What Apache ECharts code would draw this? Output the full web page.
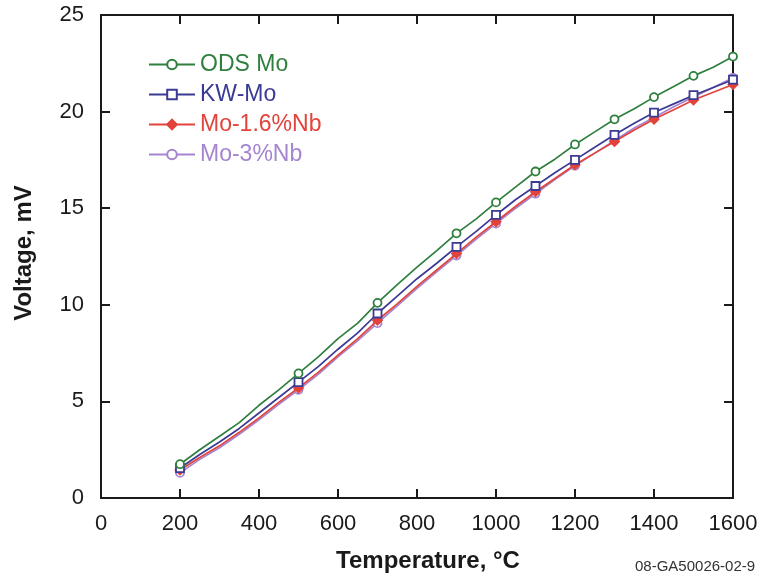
<!DOCTYPE html>
<html>
<head>
<meta charset="utf-8">
<script src="https://cdn.jsdelivr.net/npm/echarts@6/dist/echarts.min.js"></script>
<style>
  html, body { margin: 0; padding: 0; background: #fff; }
  #chart { width: 761px; height: 577px; }
</style>
</head>
<body>
<div id="chart"></div>
<script>
// Temperatures (°C) of the measured curve points
const temps = [200, 250, 300, 350, 400, 450, 500, 550, 600, 650, 700, 750, 800, 850, 900,
  950, 1000, 1050, 1100, 1150, 1200, 1250, 1300, 1350, 1400, 1450, 1500, 1550, 1600];
// Temperatures where a marker is drawn on each curve
const markerTemps = [200, 500, 700, 900, 1000, 1100, 1200, 1300, 1400, 1500, 1600];

// Thermocouple output voltage (mV)
const odsMo = [1.75, 2.5, 3.2, 3.9, 4.8, 5.6, 6.45, 7.3, 8.25, 9.05, 10.1, 11.05, 11.95, 12.8, 13.7,
  14.45, 15.3, 16.1, 16.9, 17.55, 18.3, 18.95, 19.6, 20.15, 20.75, 21.3, 21.85, 22.3, 22.85];
const kwMo = [1.55, 2.25, 2.9, 3.6, 4.4, 5.2, 6.0, 6.8, 7.7, 8.55, 9.55, 10.45, 11.35, 12.15, 13.0,
  13.8, 14.65, 15.45, 16.15, 16.85, 17.5, 18.15, 18.8, 19.4, 19.95, 20.4, 20.85, 21.25, 21.65];
const mo16Nb = [1.45, 2.1, 2.7, 3.4, 4.15, 4.95, 5.7, 6.5, 7.4, 8.25, 9.2, 10.05, 10.95, 11.8, 12.65,
  13.5, 14.3, 15.1, 15.85, 16.55, 17.25, 17.85, 18.45, 19.05, 19.6, 20.1, 20.6, 21.0, 21.4];
const mo3Nb = [1.3, 2.0, 2.6, 3.3, 4.05, 4.85, 5.6, 6.4, 7.3, 8.15, 9.05, 9.95, 10.85, 11.7, 12.55,
  13.4, 14.2, 15.0, 15.75, 16.5, 17.2, 17.85, 18.5, 19.15, 19.7, 20.25, 20.75, 21.25, 21.75];

const seriesNames = ['ODS Mo', 'KW-Mo', 'Mo-1.6%Nb', 'Mo-3%Nb'];
const seriesValues = [odsMo, kwMo, mo16Nb, mo3Nb];
const seriesColors = ['#2f7f3e', '#3b3a94', '#e2433a', '#a585cf'];
const seriesSymbols = ['circle', 'rect', 'diamond', 'circle'];
const symbolFill = ['#ffffff', '#ffffff', '#e2433a', '#ffffff'];

const xTicks = [0, 200, 400, 600, 800, 1000, 1200, 1400, 1600];
const yTicks = [0, 5, 10, 15, 20, 25];

const font = 'Liberation Sans, Arial, Helvetica, sans-serif';
const chart = echarts.init(document.getElementById('chart'), null, { renderer: 'canvas' });

const series = seriesNames.map((name, i) => ({
  name: name,
  type: 'line',
  xAxisIndex: 0,
  yAxisIndex: 0,
  data: temps.map((t, k) => [t, seriesValues[i][k]]),
  symbol: seriesSymbols[i],
  symbolSize: (v) => markerTemps.indexOf(v[0]) >= 0 ? (seriesSymbols[i] === 'diamond' ? 9 : 8) : 0,
  showSymbol: true,
  showAllSymbol: true,
  smooth: false,
  lineStyle: { color: seriesColors[i], width: 1.7 },
  itemStyle: { color: symbolFill[i], borderColor: seriesColors[i], borderWidth: 1.8 },
  emphasis: { disabled: true },
  z: 10 - i
}));

const axisLine = { show: true, onZero: false, lineStyle: { color: '#1a1a1a', width: 2 } };
const axisTick = { show: true, inside: true, length: 9, lineStyle: { color: '#1a1a1a', width: 2 } };
const plainNumber = (v) => String(v);

chart.setOption({
  animation: false,
  backgroundColor: '#ffffff',
  grid: { left: 101, right: 28, top: 15, bottom: 79 },
  legend: {
    orient: 'vertical',
    left: 143,
    top: 48,
    itemWidth: 46,
    itemHeight: 12,
    itemGap: 7,
    data: seriesNames.map((n, i) => ({
      name: n,
      textStyle: { color: seriesColors[i], fontSize: 23, fontFamily: font }
    })),
    textStyle: { fontSize: 23, fontFamily: font }
  },
  xAxis: [{
    type: 'value',
    min: xTicks[0],
    max: xTicks[xTicks.length - 1],
    interval: 200,
    axisLine: axisLine,
    axisTick: axisTick,
    axisLabel: { fontSize: 22, color: '#1a1a1a', margin: 15, fontFamily: font, formatter: plainNumber },
    splitLine: { show: false }
  }, {
    type: 'value',
    position: 'top',
    min: xTicks[0],
    max: xTicks[xTicks.length - 1],
    interval: 200,
    axisLine: axisLine,
    axisTick: axisTick,
    axisLabel: { show: false },
    splitLine: { show: false }
  }],
  yAxis: [{
    type: 'value',
    min: yTicks[0],
    max: yTicks[yTicks.length - 1],
    interval: 5,
    axisLine: axisLine,
    axisTick: axisTick,
    axisLabel: { fontSize: 22, color: '#1a1a1a', margin: 17, fontFamily: font, formatter: plainNumber },
    splitLine: { show: false }
  }, {
    type: 'value',
    position: 'right',
    min: yTicks[0],
    max: yTicks[yTicks.length - 1],
    interval: 5,
    axisLine: axisLine,
    axisTick: axisTick,
    axisLabel: { show: false },
    splitLine: { show: false }
  }],
  graphic: [{
    // x-axis title
    type: 'text',
    x: 428,
    y: 561,
    style: {
      text: 'Temperature, °C', fontSize: 24, fontWeight: 'bold', fill: '#1a1a1a',
      fontFamily: font, align: 'center', verticalAlign: 'middle'
    }
  }, {
    // y-axis title
    type: 'text',
    x: 24,
    y: 253,
    rotation: Math.PI / 2,
    style: {
      text: 'Voltage, mV', fontSize: 24, fontWeight: 'bold', fill: '#1a1a1a',
      fontFamily: font, align: 'center', verticalAlign: 'middle'
    }
  }, {
    // drawing reference code
    type: 'text',
    x: 635,
    y: 567,
    style: {
      text: '08-GA50026-02-9', fontSize: 15, fill: '#333333',
      fontFamily: font, verticalAlign: 'middle'
    }
  }],
  series: series
});
</script>
</body>
</html>
